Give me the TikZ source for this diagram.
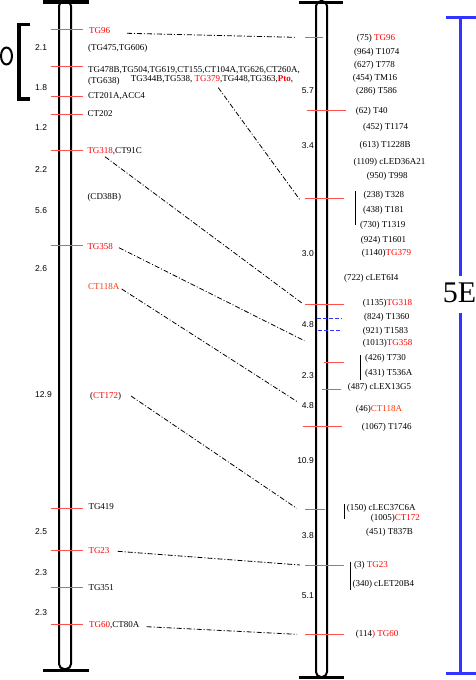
\documentclass[tikz,border=0pt]{standalone}
\usepackage{fontspec}
\newfontfamily\labfont{Liberation Serif}
\newfontfamily\numfont{Liberation Sans}
\newfontfamily\bigfont{Liberation Serif}
\usetikzlibrary{positioning}
\definecolor{mred}{RGB}{255,0,0}
\definecolor{tred}{RGB}{255,80,80}
\definecolor{ored}{RGB}{255,51,0}
\definecolor{mblue}{RGB}{51,51,255}
\newcommand{\R}[1]{\textcolor{mred}{#1}}
\newcommand{\Or}[1]{\textcolor{ored}{#1}}
\begin{document}
\begin{tikzpicture}[x=1pt,y=-1pt,
lab/.style={anchor=west,inner sep=0pt,text height=6pt,text depth=0pt,font=\labfont\fontsize{9}{10}\selectfont},
dl/.style={anchor=west,inner sep=0pt,text height=6pt,text depth=0pt,font=\numfont\fontsize{8.5}{10}\selectfont},
dr/.style={dl,anchor=east},
tick/.style={draw=tred,line width=1pt},
chrom/.style={line width=2pt,rounded corners=5pt},
endbar/.style={line width=3.5pt},
link/.style={line width=0.8pt,dash pattern=on 5pt off 2pt on 1pt off 2pt},
brack/.style={line width=1pt}]
\useasboundingbox (0,0) rectangle (476,680);
\fill[white] (0,0) rectangle (476,680);
% chromosomes
\draw[chrom] (59,1) rectangle (71,669);
\draw[endbar] (43,2) -- (89,2);
\draw[line width=2.7pt] (43,670.5) -- (89,670.5);
\draw[chrom] (316,1) rectangle (327,677);
\draw[endbar] (299,2.5) -- (343,2.5);
\draw[endbar] (299,677.5) -- (344,677.5);
% scale bar and arm
\draw[line width=3.3pt] (30,24.7) -- (19,24.7) -- (19,99) -- (30,99);
\draw[line width=2pt] (6.5,56) ellipse (5.5pt and 8.5pt);
\draw[mblue,line width=3.3pt] (446,17.3) -- (476,17.3);
\draw[mblue,line width=3.3pt] (446,673.3) -- (476,673.3);
\draw[mblue,line width=2.7pt] (460.7,17.3) -- (460.7,276);
\draw[mblue,line width=2.7pt] (460.7,313) -- (460.7,673.3);
\node[inner sep=0pt,font=\bigfont\fontsize{30}{32}\selectfont] (arm) at (459.5,293) {5E};
% left ticks
\foreach \y in {29.3,66.7,96,114,150.3,245.3,508,550.3,587.3,624.3}
  \draw[tick] (51,\y) -- (83,\y);
% right ticks
\draw[tick] (305,37.3) -- (323,37.3);
\draw[tick] (307,110) -- (345.7,110);
\draw[tick] (305,198.3) -- (344,198.3);
\draw[tick] (305,304.5) -- (344,304.5);
\draw[tick] (324,362.3) -- (344,362.3);
\draw[tick] (322,389.3) -- (340.7,389.3);
\draw[tick] (303,426) -- (341.7,426);
\draw[tick] (305,509.3) -- (325,509.3);
\draw[tick] (305,565.3) -- (344,565.3);
\draw[tick] (305,634.3) -- (344,634.3);
\draw[mblue,line width=1pt,dash pattern=on 4pt off 2pt] (317,318.3) -- (342,318.3);
\draw[mblue,line width=1pt,dash pattern=on 4pt off 2pt] (318,330.3) -- (342,330.3);
% right brackets
\draw[brack] (355.7,191) -- (355.7,225);
\draw[brack] (360.7,355) -- (360.7,380);
\draw[brack] (344.3,504) -- (344.3,519.3);
\draw[brack] (350.3,561.7) -- (350.3,590);
% left markers
\node[lab] (lTG96) at (89,31) {\R{TG96}};
\node[lab] (lTG475) at (88,47) {(TG475,TG606)};
\node[lab] (lTG478B) at (88,69) {TG478B,TG504,TG619,CT155,CT104A,TG626,CT260A,};
\node[lab] (lTG638) at (88,80.3) {(TG638)};
\node[lab] (lTG344B) at (130.7,78) {TG344B,TG538, \R{TG379},TG448,TG363,\textbf{\R{Pto}},};
\node[lab] (lCT201A) at (88,95.3) {CT201A,ACC4};
\node[lab] (lCT202) at (87.3,113.8) {CT202};
\node[lab] (lTG318) at (87.3,150.3) {\R{TG318},CT91C};
\node[lab] (lCD38B) at (87.3,196) {(CD38B)};
\node[lab] (lTG358) at (87.3,246) {\R{TG358}};
\node[lab] (lCT118A) at (88,286.8) {\Or{CT118A}};
\node[lab] (lCT172) at (90,395) {(\R{CT172})};
\node[lab] (lTG419) at (88.3,506.3) {TG419};
\node[lab] (lTG23) at (88.3,550.3) {\R{TG23}};
\node[lab] (lTG351) at (88.3,587.3) {TG351};
\node[lab] (lTG60) at (89,624.7) {\R{TG60},CT80A};
% left distances
\node[dl] (ld1) at (35,47) {2.1};
\node[dl] (ld2) at (35,87.3) {1.8};
\node[dl] (ld3) at (35,127.7) {1.2};
\node[dl] (ld4) at (35,169.3) {2.2};
\node[dl] (ld5) at (35,210) {5.6};
\node[dl] (ld6) at (35,268.7) {2.6};
\node[dl] (ld7) at (35,394) {12.9};
\node[dl] (ld8) at (35,531) {2.5};
\node[dl] (ld9) at (35,572) {2.3};
\node[dl] (ld10) at (35,612) {2.3};
% right distances
\node[dr] (rd1) at (314,90) {5.7};
\node[dr] (rd2) at (314,145.7) {3.4};
\node[dr] (rd3) at (314,253.3) {3.0};
\node[dr] (rd4) at (314,324) {4.8};
\node[dr] (rd5) at (314,375) {2.3};
\node[dr] (rd6) at (314,405.7) {4.8};
\node[dr] (rd7) at (314,460) {10.9};
\node[dr] (rd8) at (314,535) {3.8};
\node[dr] (rd9) at (314,595) {5.1};
% right markers
\node[lab] (rTG96) at (356.7,37.3) {(75) \R{TG96}};
\node[lab] (rT1074) at (354,51) {(964) T1074};
\node[lab] (rT778) at (354,64) {(627) T778};
\node[lab] (rTM16) at (352.7,77) {(454) TM16};
\node[lab] (rT586) at (356,90.7) {(286) T586};
\node[lab] (rT40) at (355.7,110) {(62) T40};
\node[lab] (rT1174) at (363,126.7) {(452) T1174};
\node[lab] (rT1228B) at (359.3,144) {(613) T1228B};
\node[lab] (rcLED) at (353.3,161) {(1109) cLED36A21};
\node[lab] (rT998) at (366.7,175) {(950) T998};
\node[lab] (rT328) at (363.3,194) {(238) T328};
\node[lab] (rT181) at (363,209) {(438) T181};
\node[lab] (rT1319) at (360,224) {(730) T1319};
\node[lab] (rT1601) at (360.7,239) {(924) T1601};
\node[lab] (rTG379) at (361.7,252.3) {(1140)\R{TG379}};
\node[lab] (rcLET6) at (344,277.7) {(722) cLET6I4};
\node[lab] (rTG318) at (362.7,302.7) {(1135)\R{TG318}};
\node[lab] (rT1360) at (364,316.3) {(824) T1360};
\node[lab] (rT1583) at (362.7,330.3) {(921) T1583};
\node[lab] (rTG358) at (362.7,342.7) {(1013)\R{TG358}};
\node[lab] (rT730) at (365,357.3) {(426) T730};
\node[lab] (rT536A) at (365,372) {(431) T536A};
\node[lab] (rcLEX) at (347.7,386) {(487) cLEX13G5};
\node[lab] (rCT118A) at (355.7,408) {(46)\Or{CT118A}};
\node[lab] (rT1746) at (361.7,426) {(1067) T1746};
\node[lab] (rcLEC) at (346.7,507.3) {(150) cLEC37C6A};
\node[lab] (rCT172) at (370.7,517.7) {(1005)\R{CT172}};
\node[lab] (rT837B) at (366,531) {(451) T837B};
\node[lab] (rTG23) at (354,564.3) {(3) \R{TG23}};
\node[lab] (rcLET20) at (352.3,583.3) {(340) cLET20B4};
\node[lab] (rTG60) at (355.7,633.3) {(114\R{) TG60}};
% links
\coordinate (a96) at (127,33.3);   \coordinate (b96) at (295,37.3);
\coordinate (aPto) at (218.3,87.7); \coordinate (bPto) at (300,200);
\coordinate (a318) at (105,156.7); \coordinate (b318) at (302.3,303.3);
\coordinate (a358) at (119,247.7); \coordinate (b358) at (304.3,340.7);
\coordinate (a118) at (121.7,289); \coordinate (b118) at (297.3,401.7);
\coordinate (a172) at (131,396);   \coordinate (b172) at (296.7,508.3);
\coordinate (a23) at (117.7,551.3); \coordinate (b23) at (300,565);
\coordinate (a60) at (146.7,626.7); \coordinate (b60) at (297,634.3);
\foreach \m in {96,Pto,318,358,118,172,23,60}
  \draw[link] (a\m) -- (b\m);
\end{tikzpicture}
\end{document}
